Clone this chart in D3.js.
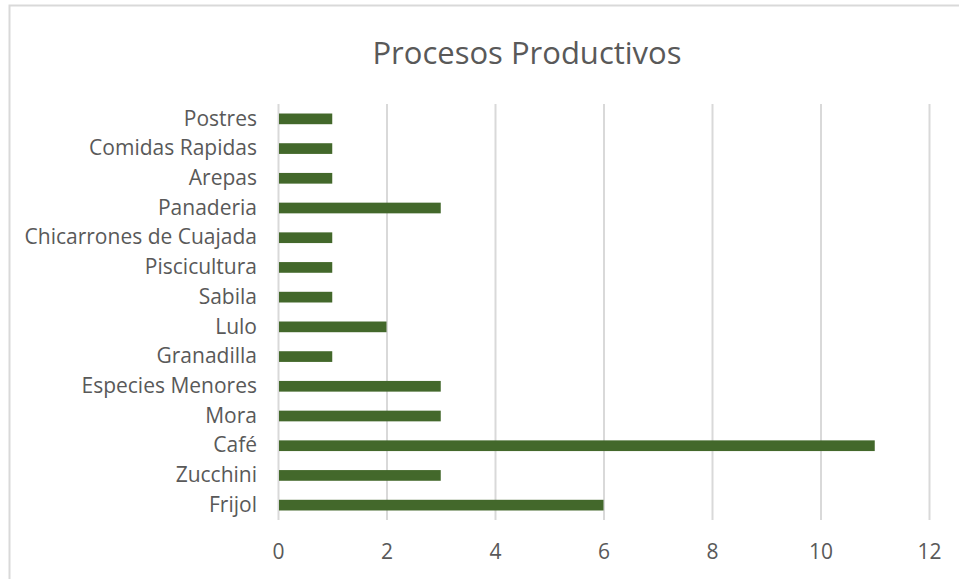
<!DOCTYPE html>
<meta charset="utf-8">
<head>
    <style>
        body { margin: 0; background: white; }
        svg text { font-family: "Open Sans", "Noto Sans", sans-serif; fill: #595959; }
        .grid line { stroke: #d9d9d9; stroke-width: 2; }
        .grid path { stroke-width: 0; }
    </style>
</head>
<body>
    <script src="https://d3js.org/d3.v7.min.js"></script>
    <div id="chart"></div>
    <script>
        // data, top to bottom as drawn
        var categories = ["Postres", "Comidas Rapidas", "Arepas", "Panaderia", "Chicarrones de Cuajada",
            "Piscicultura", "Sabila", "Lulo", "Granadilla", "Especies Menores", "Mora", "Café", "Zucchini", "Frijol"];
        var values = [1, 1, 1, 3, 1, 1, 1, 2, 1, 3, 3, 11, 3, 6];
        var xTicks = [0, 2, 4, 6, 8, 10, 12];

        var W = 959, H = 579;
        var margin = { top: 104, right: 30, bottom: 59, left: 278 },
            width = 929 - margin.left,
            height = 520 - margin.top;

        var root = d3.select("#chart").append("svg")
            .attr("width", W)
            .attr("height", H);

        // chart frame
        root.append("rect")
            .attr("x", 9.5).attr("y", 5.5)
            .attr("width", W + 20).attr("height", H + 20)
            .attr("fill", "white")
            .attr("stroke", "#d9d9d9")
            .attr("stroke-width", 2);

        root.append("text")
            .attr("x", 527).attr("y", 64)
            .attr("text-anchor", "middle")
            .style("font-size", "31px")
            .text("Procesos Productivos");

        var svg = root.append("g")
            .attr("transform", "translate(" + margin.left + "," + margin.top + ")");

        var x = d3.scaleLinear().domain([0, 12]).range([0, width]);
        var y = d3.scaleBand().domain(categories).range([0, height]).paddingInner(0.64).paddingOuter(0.32);

        // vertical grid lines
        svg.append("g")
            .attr("class", "grid")
            .attr("transform", "translate(0," + height + ")")
            .call(d3.axisBottom(x).tickValues(xTicks).tickSize(height).tickFormat(""))
            .selectAll("line").attr("y2", -height);

        // x tick labels
        svg.append("g")
            .attr("transform", "translate(0," + height + ")")
            .call(d3.axisBottom(x).tickValues(xTicks).tickSize(0).tickPadding(24))
            .call(function (g) { g.select(".domain").remove(); })
            .selectAll("text")
            .style("font-size", "21px");

        // category labels
        svg.append("g")
            .call(d3.axisLeft(y).tickSize(0).tickPadding(21))
            .call(function (g) { g.select(".domain").remove(); })
            .selectAll("text")
            .style("font-size", "21px");

        // bars
        svg.append("g")
            .selectAll("rect")
            .data(values)
            .enter()
            .append("rect")
            .attr("x", x(0) + 1)
            .attr("y", function (d, i) { return y(categories[i]); })
            .attr("width", function (d) { return x(d) - x(0) - 1; })
            .attr("height", y.bandwidth())
            .attr("fill", "#43682b");
    </script>
</body>
